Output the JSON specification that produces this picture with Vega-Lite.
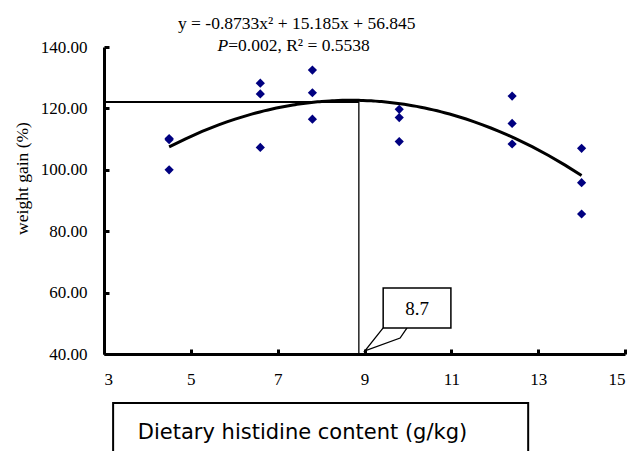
{
  "$schema": "https://vega.github.io/schema/vega-lite/v6.json",
  "width": 521,
  "height": 307,
  "autosize": "none",
  "padding": {"left": 104, "top": 47, "right": 8, "bottom": 97},
  "background": "white",
  "config": {"view": {"stroke": null}},
  "datasets": {
    "points": [
      {"x": 4.5, "y": 110.2}, {"x": 4.5, "y": 109.8}, {"x": 4.5, "y": 100.0},
      {"x": 6.6, "y": 128.2}, {"x": 6.6, "y": 124.7}, {"x": 6.6, "y": 107.3},
      {"x": 7.8, "y": 132.5}, {"x": 7.8, "y": 125.1}, {"x": 7.8, "y": 116.5},
      {"x": 9.8, "y": 119.7}, {"x": 9.8, "y": 117.0}, {"x": 9.8, "y": 109.2},
      {"x": 12.4, "y": 124.0}, {"x": 12.4, "y": 115.1}, {"x": 12.4, "y": 108.4},
      {"x": 14.0, "y": 107.0}, {"x": 14.0, "y": 95.8}, {"x": 14.0, "y": 85.6}
    ],
    "hline": [{"x": 3, "x2": 8.87, "y": 122.1}],
    "vline": [{"x": 8.87, "y": 40, "y2": 122.1}],
    "callout": [
      {"x": 9.43, "y": 48.5, "o": 1},
      {"x": 9.01, "y": 41.0, "o": 2},
      {"x": 9.82, "y": 45.2, "o": 3},
      {"x": 9.98, "y": 48.5, "o": 4}
    ],
    "calloutBox": [{"x": 9.43, "x2": 10.99, "y": 48.5, "y2": 61.5, "label": "8.7", "tx": 10.21, "ty": 54.5}],
    "titleBox": [{"x": 3.21, "x2": 12.77, "y": 24.0, "y2": 4.0}],
    "eq1": [{"x": 7.44, "y": 147.5, "label": "y = -0.8733x² + 15.185x + 56.845"}],
    "eq2p": [{"x": 5.86, "y": 140.4, "label": "P"}],
    "eq2": [{"x": 5.86, "y": 140.4, "label": "=0.002, R² = 0.5538"}]
  },
  "encoding": {
    "x": {
      "field": "x", "type": "quantitative",
      "scale": {"domain": [3, 15], "nice": false, "zero": false},
      "axis": {
        "values": [3, 5, 7, 9, 11, 13, 15], "format": "d", "grid": false,
        "domainColor": "black", "domainWidth": 3,
        "tickColor": "black", "tickWidth": 3, "tickSize": -5,
        "labelPadding": 22, "labelFont": "Liberation Serif", "labelFontSize": 17, "labelColor": "black",
        "title": "Dietary histidine content (g/kg)",
        "titleFont": "DejaVu Sans", "titleFontSize": 21, "titleFontWeight": "normal", "titleColor": "black",
        "titleX": 198, "titleY": 78, "titleBaseline": "middle", "titleAlign": "center"
      }
    },
    "y": {
      "field": "y", "type": "quantitative",
      "scale": {"domain": [40, 140], "nice": false, "zero": false},
      "axis": {
        "values": [40, 60, 80, 100, 120, 140], "format": ".2f", "grid": false,
        "domainColor": "black", "domainWidth": 3,
        "tickColor": "black", "tickWidth": 3, "tickSize": -5,
        "labelPadding": 22, "labelFont": "Liberation Serif", "labelFontSize": 17, "labelColor": "black",
        "title": "weight gain (%)",
        "titleFont": "Liberation Serif", "titleFontSize": 17.5, "titleFontWeight": "normal", "titleColor": "black",
        "titleX": -82, "titleY": 131, "titleBaseline": "middle", "titleAlign": "center", "titleAngle": -90
      }
    }
  },
  "layer": [
    {
      "data": {"name": "titleBox"},
      "mark": {"type": "rect", "fill": "transparent", "stroke": "black", "strokeWidth": 2, "clip": false},
      "encoding": {"x2": {"field": "x2"}, "y2": {"field": "y2"}}
    },
    {
      "data": {"name": "hline"},
      "mark": {"type": "rule", "color": "black", "strokeWidth": 2},
      "encoding": {"x2": {"field": "x2"}}
    },
    {
      "data": {"name": "vline"},
      "mark": {"type": "rule", "color": "black", "strokeWidth": 1.3},
      "encoding": {"y2": {"field": "y2"}}
    },
    {
      "data": {"name": "points"},
      "transform": [{"regression": "y", "on": "x", "method": "poly", "order": 2, "extent": [4.5, 14]}],
      "mark": {"type": "line", "color": "black", "strokeWidth": 3}
    },
    {
      "data": {"name": "points"},
      "mark": {"type": "point", "shape": "diamond", "filled": true, "color": "#000080", "size": 85, "opacity": 1}
    },
    {
      "data": {"name": "callout"},
      "mark": {"type": "line", "color": "black", "strokeWidth": 1.3},
      "encoding": {"order": {"field": "o", "type": "quantitative"}}
    },
    {
      "data": {"name": "calloutBox"},
      "mark": {"type": "rect", "fill": "white", "stroke": "black", "strokeWidth": 1.5},
      "encoding": {"x2": {"field": "x2"}, "y2": {"field": "y2"}}
    },
    {
      "data": {"name": "calloutBox"},
      "mark": {"type": "text", "font": "Liberation Serif", "fontSize": 19, "color": "black", "align": "center", "baseline": "middle"},
      "encoding": {"x": {"field": "tx", "type": "quantitative"}, "y": {"field": "ty", "type": "quantitative"}, "text": {"field": "label"}}
    },
    {
      "data": {"name": "eq1"},
      "mark": {"type": "text", "font": "Liberation Serif", "fontSize": 17.5, "color": "black", "align": "center", "baseline": "middle", "clip": false},
      "encoding": {"text": {"field": "label"}}
    },
    {
      "data": {"name": "eq2p"},
      "mark": {"type": "text", "font": "Liberation Serif", "fontSize": 17.5, "fontStyle": "italic", "color": "black", "align": "right", "baseline": "middle", "clip": false},
      "encoding": {"text": {"field": "label"}}
    },
    {
      "data": {"name": "eq2"},
      "mark": {"type": "text", "font": "Liberation Serif", "fontSize": 17.5, "color": "black", "align": "left", "baseline": "middle", "clip": false},
      "encoding": {"text": {"field": "label"}}
    }
  ]
}
